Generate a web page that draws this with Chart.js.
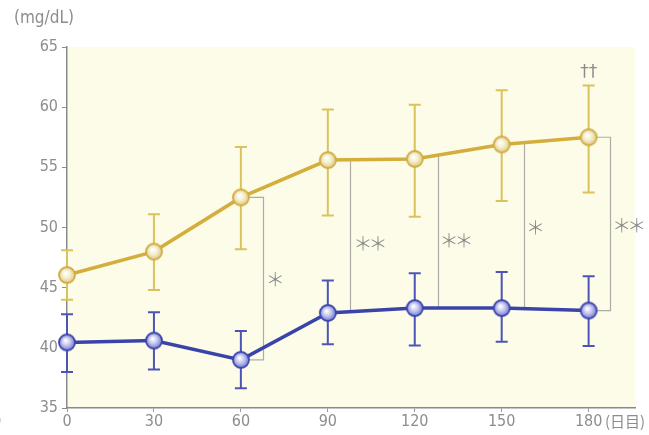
<!DOCTYPE html>
<html><head><meta charset="utf-8">
<script src="https://cdn.jsdelivr.net/npm/chart.js@4/dist/chart.umd.min.js"></script>
<style>html,body{margin:0;padding:0;background:#fff}#wrap{width:649px;height:435px;position:relative}</style>
</head><body><div id="wrap"><canvas id="c"></canvas></div>
<script>
// ---- data ----
const days = [0, 30, 60, 90, 120, 150, 180];
const xTickValues = [0, 30, 60, 90, 120, 150, 180];
const yellowMean = [46.05, 48.0, 52.5, 55.6, 55.7, 56.9, 57.5];
const yellowHigh = [48.1, 51.1, 56.7, 59.8, 60.2, 61.4, 61.8];
const yellowLow  = [44.0, 44.8, 48.2, 51.0, 50.9, 52.2, 52.9];
const blueMean = [40.45, 40.6, 39.0, 42.9, 43.3, 43.3, 43.1];
const blueHigh = [42.8, 42.95, 41.4, 45.6, 46.2, 46.3, 45.95];
const blueLow  = [38.0, 38.2, 36.65, 40.3, 40.2, 40.5, 40.15];
const sigLabels = ['*', '**', '**', '*', '**'];
const daggerLabel = '††';
const yTitle = '(mg/dL)';
const xUnit = '(日目)';

// ---- annotation layout (positions in data units) ----
const sigShapes = [
  {kind: 'bracket', idx: 2, at: 67.8, lx: 71.9, ly: 45.7},
  {kind: 'line', at: 97.8, lx: 104.7, ly: 48.7},
  {kind: 'line', at: 127.9, lx: 134.4, ly: 48.9},
  {kind: 'line', at: 157.6, lx: 161.7, ly: 50.0},
  {kind: 'bracket', idx: 6, at: 187.4, lx: 194.0, ly: 50.2}
];

const FONT = "'DejaVu Sans Condensed', 'Roboto', sans-serif";
const GRAY = '#8d8d8d';
const YCOL = '#d4ae3c', BCOL = '#3a44a8';
const YERR = '#dcc25c', BERR = '#4c55b5';

function markerImg(c0, c1, c2, border) {
  const cv = document.createElement('canvas');
  cv.width = 20; cv.height = 20;
  const g = cv.getContext('2d');
  const gr = g.createRadialGradient(8.5, 8, 0.5, 10, 10, 8.5);
  gr.addColorStop(0, c0); gr.addColorStop(0.45, c1); gr.addColorStop(1, c2);
  g.beginPath(); g.arc(10, 10, 8, 0, Math.PI * 2);
  g.fillStyle = gr; g.fill();
  g.lineWidth = 1.8; g.strokeStyle = border; g.stroke();
  return cv;
}
const yMarker = markerImg('#ffffff', '#f5efcf', '#dcc47a', '#d2ad44');
const bMarker = markerImg('#ffffff', '#c6c9f0', '#6e74cf', '#3d46ad');

function lineYAt(meta, px) {
  const pts = meta.data;
  for (let i = 0; i < pts.length - 1; i++) {
    if (px >= pts[i].x && px <= pts[i + 1].x) {
      const t = (px - pts[i].x) / (pts[i + 1].x - pts[i].x);
      return pts[i].y + t * (pts[i + 1].y - pts[i].y);
    }
  }
  return pts[pts.length - 1].y;
}

function drawStars(ctx, text, cx, cy) {
  ctx.save();
  ctx.font = "300 19px 'Noto Sans CJK JP', sans-serif";
  ctx.fillStyle = '#858585';
  ctx.textAlign = 'center';
  ctx.textBaseline = 'alphabetic';
  const m = ctx.measureText('＊');
  const off = (m.actualBoundingBoxAscent - m.actualBoundingBoxDescent) / 2;
  const n = text.length, gap = 15;
  for (let i = 0; i < n; i++) {
    const x = cx + (i - (n - 1) / 2) * gap;
    ctx.fillText('＊', x, cy + off);
  }
  ctx.restore();
}

const overlay = {
  id: 'overlay',
  beforeDraw(chart) {
    const {ctx, chartArea: a} = chart;
    ctx.save();
    ctx.fillStyle = '#fcfce9';
    ctx.fillRect(a.left, a.top, a.right - a.left, a.bottom - a.top);
    ctx.restore();
  },
  beforeDatasetsDraw(chart) {
    const {ctx, scales: {x, y}} = chart;
    const m0 = chart.getDatasetMeta(0), m1 = chart.getDatasetMeta(1);
    ctx.save();
    ctx.strokeStyle = '#adada5';
    ctx.lineWidth = 1.2;
    sigShapes.forEach(s => {
      const px = Math.round(x.getPixelForValue(s.at)) + 0.5;
      ctx.beginPath();
      if (s.kind === 'bracket') {
        const x0 = x.getPixelForValue(days[s.idx]);
        const yt = y.getPixelForValue(yellowMean[s.idx]);
        const yb = y.getPixelForValue(blueMean[s.idx]);
        ctx.moveTo(x0, yt); ctx.lineTo(px, yt); ctx.lineTo(px, yb); ctx.lineTo(x0, yb);
      } else {
        ctx.moveTo(px, lineYAt(m0, px)); ctx.lineTo(px, lineYAt(m1, px));
      }
      ctx.stroke();
    });
    const bars = (hi, lo, col) => {
      ctx.strokeStyle = col; ctx.lineWidth = 2;
      days.forEach((d, i) => {
        const px = x.getPixelForValue(d);
        const h = y.getPixelForValue(hi[i]), l = y.getPixelForValue(lo[i]);
        ctx.beginPath();
        ctx.moveTo(px, h); ctx.lineTo(px, l);
        ctx.moveTo(px - 6, h); ctx.lineTo(px + 6, h);
        ctx.moveTo(px - 6, l); ctx.lineTo(px + 6, l);
        ctx.stroke();
      });
    };
    bars(yellowHigh, yellowLow, YERR);
    bars(blueHigh, blueLow, BERR);
    ctx.restore();
  },
  afterDraw(chart) {
    const {ctx, scales: {x, y}} = chart;
    sigShapes.forEach((s, i) => drawStars(ctx, sigLabels[i], x.getPixelForValue(s.lx), y.getPixelForValue(s.ly)));
    ctx.save();
    ctx.fillStyle = GRAY;
    ctx.font = "17px 'DejaVu Sans', sans-serif";
    ctx.textAlign = 'center'; ctx.textBaseline = 'middle';
    ctx.fillText(daggerLabel, x.getPixelForValue(180), y.getPixelForValue(62.9));
    ctx.font = '17px ' + FONT;
    ctx.textAlign = 'left';
    ctx.fillText(yTitle, 14, 19);
    ctx.font = "15px 'Noto Sans CJK JP', sans-serif";
    ctx.fillText(xUnit, 605, 421);
    ctx.font = '16px ' + FONT;
    ctx.fillText(')', -4, 421);
    ctx.restore();
  }
};

new Chart(document.getElementById('c'), {
  type: 'line',
  data: {
    datasets: [
      {data: days.map((d, i) => ({x: d, y: yellowMean[i]})), borderColor: YCOL, borderWidth: 3.5,
       pointStyle: yMarker, pointRadius: 8, clip: false, tension: 0},
      {data: days.map((d, i) => ({x: d, y: blueMean[i]})), borderColor: BCOL, borderWidth: 3.5,
       pointStyle: bMarker, pointRadius: 8, clip: false, tension: 0}
    ]
  },
  options: {
    responsive: true, maintainAspectRatio: false, animation: false,
    layout: {padding: {left: 0, right: 14, top: 47, bottom: 0}, autoPadding: false},
    plugins: {legend: {display: false}, tooltip: {enabled: false}},
    events: [],
    scales: {
      x: {
        type: 'linear', min: 0, max: 196,
        afterBuildTicks(s) { s.ticks = xTickValues.map(v => ({value: v})); },
        afterFit(s) { s.height = 27; },
        grid: {drawOnChartArea: false, drawTicks: true, tickLength: 4, color: '#9a9a9a'},
        border: {color: '#8a8a8a', width: 1.5},
        ticks: {color: GRAY, font: {family: FONT, size: 16}, padding: 0, maxRotation: 0, autoSkip: false}
      },
      y: {
        min: 35, max: 65,
        afterBuildTicks(s) { s.ticks = [35, 40, 45, 50, 55, 60, 65].map(v => ({value: v})); },
        afterFit(s) { s.width = 67; },
        grid: {drawOnChartArea: false, drawTicks: true, tickLength: 5, color: '#8a8a8a'},
        border: {color: '#8a8a8a', width: 1.5},
        ticks: {color: GRAY, font: {family: FONT, size: 16}, padding: 4}
      }
    }
  },
  plugins: [overlay]
});
</script>
</body></html>
